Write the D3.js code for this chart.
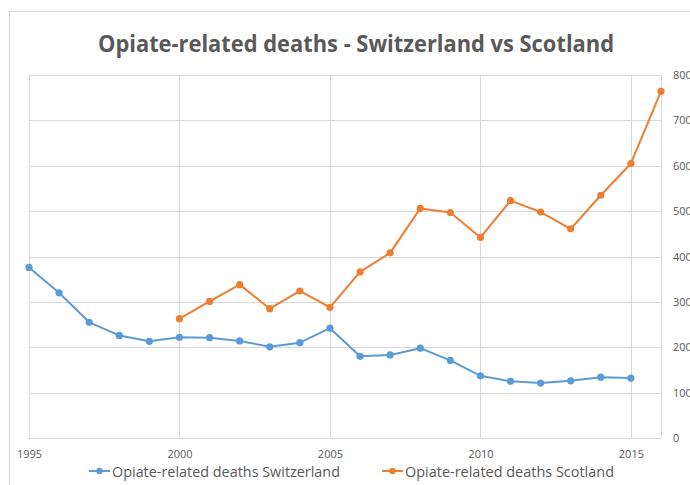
<!DOCTYPE html>
<html>
<head>
<meta charset="utf-8">
<script src="https://cdn.jsdelivr.net/npm/d3@7"></script>
<style>
  html, body { margin: 0; padding: 0; background: #fff; }
  svg { display: block; }
</style>
</head>
<body>
<svg id="chart" width="690" height="485"></svg>
<script>
/* data */
const yearsSwiss = [1995, 1996, 1997, 1998, 1999, 2000, 2001, 2002, 2003, 2004, 2005,
  2006, 2007, 2008, 2009, 2010, 2011, 2012, 2013, 2014, 2015]
const deathsSwiss = [376, 320, 255, 226, 213, 222, 221, 214, 201, 210, 242,
  180, 183, 198, 171, 137, 125, 121, 126, 134, 132]
const yearsScot = [2000, 2001, 2002, 2003, 2004, 2005, 2006, 2007, 2008, 2009, 2010,
  2011, 2012, 2013, 2014, 2015, 2016]
const deathsScot = [263, 301, 338, 285, 324, 288, 366, 408, 506, 497, 442,
  523, 498, 461, 535, 605, 764]
const xTicks = [1995, 2000, 2005, 2010, 2015]
const yTicks = [0, 100, 200, 300, 400, 500, 600, 700, 800]
const seriesNames = ["Opiate-related deaths Switzerland", "Opiate-related deaths Scotland"]
const titleText = "Opiate-related deaths - Switzerland vs Scotland"

/* layout */
const marginTop = 75
const marginLeft = 29
const plotRight = 661
const plotBottom = 438
const font = "'Open Sans', 'Liberation Sans', sans-serif"
const textColor = "#595959"
const gridColor = "#d9d9d9"
const colors = ["#5b9bd5", "#ed7d31"]

const svg = d3.select("#chart")

/* chart border */
svg.append("rect")
.attr("x", 9.5)
.attr("y", 11.5)
.attr("width", 720)
.attr("height", 520)
.attr("fill", "none")
.attr("stroke", gridColor)

svg.append("text")
.attr("x", 356)
.attr("y", 52)
.attr("text-anchor", "middle")
.attr("fill", textColor)
.style("font", `bold 24px ${font}`)
.attr("textLength", 516)
.attr("lengthAdjust", "spacingAndGlyphs")
.text(titleText)

const x = d3.scaleLinear([1995, 2016], [marginLeft, plotRight])
const y = d3.scaleLinear([0, 800], [plotBottom, marginTop])

/* gridlines */
svg.append("g")
.selectAll("line")
.data(yTicks)
.join("line")
.attr("x1", marginLeft)
.attr("x2", plotRight)
.attr("y1", d => Math.round(y(d)) + 0.5)
.attr("y2", d => Math.round(y(d)) + 0.5)
.attr("stroke", gridColor)
.attr("stroke-width", 1)

svg.append("g")
.selectAll("line")
.data([...xTicks, 2016])
.join("line")
.attr("x1", d => Math.round(x(d)) + 0.5)
.attr("x2", d => Math.round(x(d)) + 0.5)
.attr("y1", marginTop)
.attr("y2", plotBottom)
.attr("stroke", gridColor)
.attr("stroke-width", 1)

/* x axis labels */
svg.append("g")
.attr("transform", `translate(0, ${plotBottom})`)
.call(d3.axisBottom(x).tickValues(xTicks).tickFormat(d3.format("d")).tickSize(0).tickPadding(12))
.call(g => g.select(".domain").remove())
.call(g => g.selectAll(".tick text")
  .attr("fill", textColor)
  .style("font", `11px ${font}`))

/* y axis labels on the right */
svg.append("g")
.attr("transform", `translate(${plotRight}, 0)`)
.call(d3.axisRight(y).tickValues(yTicks).tickSize(0).tickPadding(12))
.call(g => g.select(".domain").remove())
.call(g => g.selectAll(".tick text")
  .attr("fill", textColor)
  .style("font", `11px ${font}`))

const line = d3.line()
.x(d => x(d[0]))
.y(d => y(d[1]))

const series = [
  d3.zip(yearsSwiss, deathsSwiss),
  d3.zip(yearsScot, deathsScot)
]

const serie = svg.append("g")
.selectAll("g")
.data(series)
.join("g")

serie.append("path")
.attr("fill", "none")
.attr("stroke", (d, i) => colors[i])
.attr("stroke-width", 2)
.attr("stroke-linejoin", "round")
.attr("d", d => line(d))

serie.selectAll("circle")
.data((d, i) => d.map(p => ({ p, i })))
.join("circle")
.attr("cx", d => x(d.p[0]))
.attr("cy", d => y(d.p[1]))
.attr("r", 3.6)
.attr("fill", d => colors[d.i])

/* legend */
const legendItems = [
  { lx: 89, tx: 112, w: 228 },
  { lx: 382, tx: 405, w: 209 }
]
const legendY = 471

const legend = svg.append("g")
.selectAll("g")
.data(seriesNames)
.join("g")

legend.append("line")
.attr("x1", (d, i) => legendItems[i].lx)
.attr("x2", (d, i) => legendItems[i].lx + 21)
.attr("y1", legendY)
.attr("y2", legendY)
.attr("stroke", (d, i) => colors[i])
.attr("stroke-width", 2)

legend.append("circle")
.attr("cx", (d, i) => legendItems[i].lx + 10.5)
.attr("cy", legendY)
.attr("r", 3.2)
.attr("fill", (d, i) => colors[i])

legend.append("text")
.attr("x", (d, i) => legendItems[i].tx)
.attr("y", legendY + 5.5)
.attr("fill", textColor)
.style("font", `15px ${font}`)
.attr("textLength", (d, i) => legendItems[i].w)
.attr("lengthAdjust", "spacingAndGlyphs")
.text(d => d)
</script>
</body>
</html>
